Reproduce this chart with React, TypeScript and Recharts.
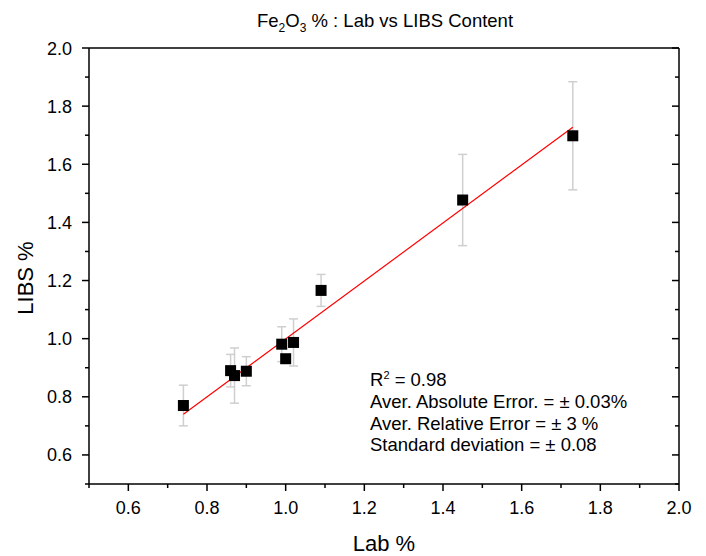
import { ScatterChart, Scatter, XAxis, YAxis, ErrorBar } from 'recharts'

// Fe2O3 lab vs LIBS content
const labX = [0.74, 0.86, 0.87, 0.9, 0.99, 1.0, 1.02, 1.09, 1.45, 1.73]
const libsY = [0.77, 0.89, 0.873, 0.888, 0.981, 0.931, 0.987, 1.166, 1.477, 1.698]
const libsErr = [0.07, 0.056, 0.095, 0.05, 0.06, 0.01, 0.081, 0.055, 0.157, 0.186]

// linear fit endpoints
const fitX = [0.74, 1.73]
const fitY = [0.74, 1.727]

const axisTicks = [0.5, 0.6, 0.7, 0.8, 0.9, 1.0, 1.1, 1.2, 1.3, 1.4, 1.5, 1.6, 1.7, 1.8, 1.9, 2.0]
const statLines = ['Aver. Absolute Error. = \u00b1 0.03%', 'Aver. Relative Error = \u00b1 3 %', 'Standard deviation = \u00b1 0.08']

const points = labX.map((x, i) => ({ x, y: libsY[i], err: libsErr[i] }))
const fit = fitX.map((x, i) => ({ x, y: fitY[i] }))

const FONT = '"Liberation Sans", Arial, sans-serif'
const isMajor = (v: number) => Math.round(v * 10) % 2 === 0

const BottomTick = (p: any) => {
  const v = p.payload.value
  const major = isMajor(v)
  return (
    <g>
      <line x1={p.x} x2={p.x} y1={p.y} y2={p.y + (major ? 7 : 4)} stroke="#000" strokeWidth={1.5} />
      {major && (
        <text x={p.x} y={p.y + 30} textAnchor="middle" fontSize={18} fontFamily={FONT} fill="#000">
          {v.toFixed(1)}
        </text>
      )}
    </g>
  )
}

const LeftTick = (p: any) => {
  const v = p.payload.value
  const major = isMajor(v)
  return (
    <g>
      <line x1={p.x} x2={p.x - (major ? 7 : 4)} y1={p.y} y2={p.y} stroke="#000" strokeWidth={1.5} />
      {major && (
        <text x={p.x - 17} y={p.y + 6.5} textAnchor="end" fontSize={18} fontFamily={FONT} fill="#000">
          {v.toFixed(1)}
        </text>
      )}
    </g>
  )
}

const TopTick = (p: any) => {
  const major = isMajor(p.payload.value)
  return <line x1={p.x} x2={p.x} y1={p.y} y2={p.y + (major ? 7 : 4)} stroke="#000" strokeWidth={1.5} />
}

const RightTick = (p: any) => {
  const major = isMajor(p.payload.value)
  return <line x1={p.x} x2={p.x - (major ? 7 : 4)} y1={p.y} y2={p.y} stroke="#000" strokeWidth={1.5} />
}

const Square = (p: any) => <rect x={p.cx - 5.5} y={p.cy - 5.5} width={11} height={11} fill="#000" />

export default function App() {
  return (
    <div style={{ position: 'absolute', left: 0, top: 0, width: 706, height: 556, background: '#fff' }}>
      <ScatterChart width={706} height={556} margin={{ top: 47, right: 26, bottom: 0, left: 0 }}>
        <XAxis
          dataKey="x"
          type="number"
          domain={[0.5, 2]}
          ticks={axisTicks}
          interval={0}
          height={72}
          tickSize={0}
          tickMargin={0}
          tick={<BottomTick />}
          axisLine={{ stroke: '#000', strokeWidth: 1.5 }}
          allowDataOverflow
        />
        <XAxis
          xAxisId="top"
          orientation="top"
          type="number"
          domain={[0.5, 2]}
          ticks={axisTicks}
          interval={0}
          height={1}
          tickSize={0}
          tickMargin={0}
          tick={<TopTick />}
          axisLine={{ stroke: '#000', strokeWidth: 1.5 }}
          allowDataOverflow
        />
        <YAxis
          dataKey="y"
          type="number"
          domain={[0.5, 2]}
          ticks={axisTicks}
          interval={0}
          width={89}
          tickSize={0}
          tickMargin={0}
          tick={<LeftTick />}
          axisLine={{ stroke: '#000', strokeWidth: 1.5 }}
          allowDataOverflow
        />
        <YAxis
          yAxisId="right"
          orientation="right"
          type="number"
          domain={[0.5, 2]}
          ticks={axisTicks}
          interval={0}
          width={1}
          tickSize={0}
          tickMargin={0}
          tick={<RightTick />}
          axisLine={{ stroke: '#000', strokeWidth: 1.5 }}
          allowDataOverflow
        />
        <Scatter
          data={fit}
          line={{ stroke: '#ff0000', strokeWidth: 1.2 }}
          shape={() => <g />}
          isAnimationActive={false}
        />
        <Scatter data={points} shape={<Square />} isAnimationActive={false}>
          <ErrorBar dataKey="err" direction="y" width={4.5} stroke="#cfcfcf" strokeWidth={1.5} />
        </Scatter>
      </ScatterChart>
      <svg width={706} height={556} style={{ position: 'absolute', left: 0, top: 0, pointerEvents: 'none' }}>
        <text x={385} y={27} textAnchor="middle" fontSize={18.5} fontFamily={FONT} fill="#000">
          Fe<tspan fontSize={12} dy={5}>2</tspan>
          <tspan dy={-5}>O</tspan>
          <tspan fontSize={12} dy={5}>3</tspan>
          <tspan dy={-5}> % : Lab vs LIBS Content</tspan>
        </text>
        <text x={384} y={551} textAnchor="middle" fontSize={22} fontFamily={FONT} fill="#000">
          Lab %
        </text>
        <text x={33} y={278} transform="rotate(-90 33 278)" textAnchor="middle" fontSize={22} fontFamily={FONT} fill="#000">
          LIBS %
        </text>
        <text x={370} y={386} fontSize={18.5} fontFamily={FONT} fill="#000">
          R<tspan fontSize={11} dy={-7}>2</tspan>
          <tspan dy={7}> = 0.98</tspan>
        </text>
        {statLines.map((s, i) => (
          <text key={s} x={370} y={408 + i * 21.6} fontSize={18.5} fontFamily={FONT} fill="#000">
            {s}
          </text>
        ))}
      </svg>
    </div>
  )
}
